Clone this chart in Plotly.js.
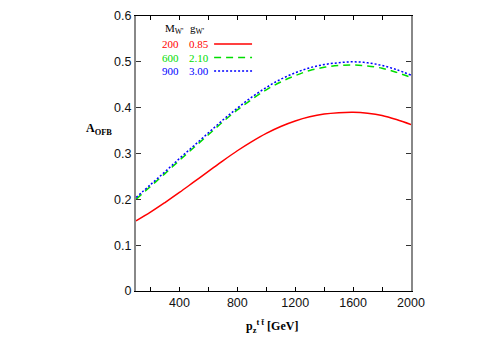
<!DOCTYPE html>
<html>
<head>
<meta charset="utf-8">
<script src="https://cdn.plot.ly/plotly-3.0.1.min.js"></script>
<style>
  html, body { margin: 0; padding: 0; background: #fff; }
  #chart { width: 498px; height: 349px; }
</style>
</head>
<body>
<div id="chart"></div>
<script>
// transverse momentum of the t tbar system [GeV]
const pzValues = [100, 200, 300, 400, 500, 600, 700, 800, 900, 1000,
                  1100, 1200, 1300, 1400, 1500, 1600, 1700, 1800, 1900, 2000];

// A_OFB for the three W' scenarios
const aofb200 = [0.153, 0.172, 0.193, 0.215, 0.238, 0.261, 0.284, 0.306, 0.326, 0.344,
                 0.359, 0.371, 0.380, 0.386, 0.389, 0.390, 0.388, 0.383, 0.374, 0.363];
const aofb600 = [0.200, 0.228, 0.256, 0.285, 0.313, 0.341, 0.369, 0.395, 0.418, 0.439,
                 0.456, 0.470, 0.481, 0.488, 0.492, 0.493, 0.491, 0.486, 0.477, 0.466];
const aofb900 = [0.204, 0.232, 0.260, 0.289, 0.317, 0.345, 0.373, 0.399, 0.423, 0.444,
                 0.462, 0.476, 0.487, 0.494, 0.498, 0.500, 0.498, 0.492, 0.483, 0.471];

// legend columns
const massLabels = ["200", "600", "900"];
const couplingLabels = ["0.85", "2.10", "3.00"];

// x ticks every 200, labels every 400
const xTickVals = [200, 400, 600, 800, 1000, 1200, 1400, 1600, 1800, 2000];
const xTickText = ["", "400", "", "800", "", "1200", "", "1600", "", "2000"];

const colors = ["#ff0000", "#00dd00", "#0000ff"];
const dashes = ["solid", "7px,5px", "2px,2px"];
const series = [aofb200, aofb600, aofb900];

const traces = series.map((ys, i) => ({
    x: pzValues,
    y: ys,
    type: "scatter",
    mode: "lines",
    line: { color: colors[i], width: 1.5, dash: dashes[i], shape: "spline" },
    showlegend: false,
    hoverinfo: "skip"
}));

// small helper so every annotation is centred on its point
function label(x, y, text, color, size, family) {
    return {
        xref: "paper", yref: "paper", x: x, y: y,
        xanchor: "center", yanchor: "middle",
        text: text, showarrow: false,
        font: { family: family || "Liberation Serif", size: size || 11, color: color }
    };
}

// legend drawn by hand (gnuplot style: text first, line sample after)
const rowY = [0.898, 0.849, 0.800];
const annotations = [];
const shapes = [];

annotations.push(label(0.140, 0.952, "M<sub>W'</sub>", "#000"));
annotations.push(label(0.222, 0.952, "g<sub>W'</sub>", "#000"));

massLabels.forEach((m, i) => {
    annotations.push(label(0.124, rowY[i], m, colors[i]));
    annotations.push(label(0.229, rowY[i], couplingLabels[i], colors[i]));
    shapes.push({
        type: "line", xref: "paper", yref: "paper",
        x0: 0.284, x1: 0.422, y0: rowY[i], y1: rowY[i],
        line: { color: colors[i], width: 1.5, dash: dashes[i] }
    });
});

// axis titles
annotations.push(label(0.493, -0.13, "<b>p<sub>z</sub><sup>t t̄</sup> [GeV]</b>", "#000", 12));
annotations.push(label(-0.135, 0.59, "<b>A<sub>OFB</sub></b>", "#000", 12));

const layout = {
    width: 498,
    height: 349,
    margin: { l: 136, r: 87, t: 16, b: 58 },
    paper_bgcolor: "#fff",
    plot_bgcolor: "#fff",
    font: { family: "Liberation Sans", size: 12.5, color: "#111" },
    xaxis: {
        range: [100, 2000],
        tickmode: "array",
        tickvals: xTickVals,
        ticktext: xTickText,
        ticks: "inside",
        ticklen: 4,
        tickcolor: "#000",
        showline: true,
        linecolor: "#000",
        linewidth: 1,
        mirror: "allticks",
        showgrid: false,
        zeroline: false
    },
    yaxis: {
        range: [0, 0.6],
        dtick: 0.1,
        ticks: "inside",
        ticklen: 5,
        tickcolor: "#333",
        showline: true,
        linecolor: "#888",
        linewidth: 2,
        mirror: "allticks",
        showgrid: false,
        zeroline: false
    },
    annotations: annotations,
    shapes: shapes
};

Plotly.newPlot("chart", traces, layout, { displayModeBar: false, staticPlot: true });
</script>
</body>
</html>
